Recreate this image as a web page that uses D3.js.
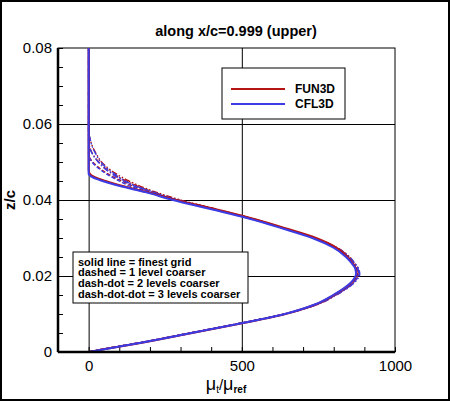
<!DOCTYPE html>
<html>
<head>
<meta charset="utf-8">
<title>along x/c=0.999 (upper)</title>
<style>
    body { margin: 0; background: #fff; }
    svg text { font-family: "Liberation Sans", Arial, sans-serif; }
</style>
</head>
<body>
<div id="chart"></div>
<script src="https://cdnjs.cloudflare.com/ajax/libs/d3/7.8.5/d3.min.js"></script>
<script>
// z/c stations shared by all profiles
const zc = [0, 0.001, 0.0025, 0.005, 0.0075, 0.01, 0.0125, 0.015, 0.0175, 0.019,
            0.0205, 0.022, 0.0235, 0.025, 0.0275, 0.03, 0.0325, 0.035, 0.0375, 0.04,
            0.042, 0.044, 0.045, 0.046, 0.047, 0.048, 0.05, 0.052, 0.054, 0.056,
            0.058, 0.06, 0.08];

// mu_t/mu_ref, FUN3D (fine -> 3 levels coarser)
const fun3dFine = [0, 68, 178, 338, 497, 642, 740, 800, 847, 866, 875, 872, 860, 845, 808, 742, 645, 540, 418, 285, 195, 95, 55, 20, 3, 0, 0, 0, 0, 0, 0, 0, 0];
const fun3dL1   = [0, 66, 176, 336, 495, 640, 742, 803, 850, 869, 878, 875, 862, 847, 806, 738, 640, 535, 415, 288, 205, 135, 108, 82, 60, 42, 13, 0, 0, 0, 0, 0, 0];
const fun3dL2   = [0, 64, 172, 332, 492, 640, 745, 806, 853, 872, 881, 878, 865, 850, 808, 738, 640, 536, 418, 295, 215, 150, 122, 98, 78, 60, 33, 14, 3, 0, 0, 0, 0];
const fun3dL3   = [0, 62, 168, 328, 490, 640, 746, 808, 855, 874, 883, 880, 867, 852, 810, 740, 642, 540, 422, 300, 222, 158, 132, 108, 88, 70, 42, 26, 13, 5, 0, 0, 0];

// mu_t/mu_ref, CFL3D (fine -> 3 levels coarser)
const cfl3dFine = [0, 70, 176, 336, 495, 640, 738, 798, 845, 864, 873, 870, 857, 840, 798, 730, 633, 528, 404, 275, 188, 86, 45, 12, 0, 0, 0, 0, 0, 0, 0, 0, 0];
const cfl3dL1   = [0, 68, 174, 334, 494, 640, 740, 802, 849, 868, 878, 874, 860, 845, 802, 734, 636, 530, 408, 280, 198, 125, 100, 76, 55, 38, 11, 0, 0, 0, 0, 0, 0];
const cfl3dL2   = [0, 66, 172, 332, 492, 640, 743, 805, 853, 872, 882, 878, 864, 848, 805, 736, 638, 533, 412, 286, 208, 140, 115, 92, 74, 57, 31, 13, 3, 0, 0, 0, 0];
const cfl3dL3   = [0, 64, 170, 330, 490, 640, 745, 808, 857, 876, 885, 881, 867, 852, 808, 738, 640, 536, 416, 292, 214, 145, 120, 100, 82, 65, 40, 24, 12, 5, 0, 0, 0];

const xTicks = [0, 500, 1000];
const yTicks = [0, 0.02, 0.04, 0.06, 0.08];
const legendNames = ["FUN3D", "CFL3D"];
const noteLines = ["solid line = finest grid", "dashed = 1 level coarser",
                   "dash-dot = 2 levels coarser", "dash-dot-dot = 3 levels coarser"];

const W = 450, H = 401;
const margin = {top: 48, right: 55, bottom: 49, left: 58};
const width = W - margin.left - margin.right;
const height = H - margin.top - margin.bottom;

const red = "#b41414", blue = "#3c3ce6";
const dashes = [null, "4,2", "6,2,1.5,2", "6,2,1.5,2,1.5,2"];

const svg = d3.select("#chart").append("svg")
    .attr("width", W).attr("height", H);

// outer frame
svg.append("rect")
    .attr("x", 1).attr("y", 1).attr("width", W - 2).attr("height", H - 2)
    .attr("fill", "none").attr("stroke", "#000").attr("stroke-width", 2);

const g = svg.append("g").attr("transform", `translate(${margin.left},${margin.top})`);

const x = d3.scaleLinear().domain([-100, 1000]).range([0, width]);
const y = d3.scaleLinear().domain([0, 0.08]).range([height, 0]);

// grid lines
g.append("g")
    .call(d3.axisBottom(x).tickValues([0, 500]).tickSize(height).tickFormat(""))
    .call(a => a.select(".domain").remove())
    .selectAll("line").attr("stroke", "#000").attr("stroke-width", 1);
g.append("g")
    .call(d3.axisLeft(y).tickValues([0.02, 0.04, 0.06]).tickSize(-width).tickFormat(""))
    .call(a => a.select(".domain").remove())
    .selectAll("line").attr("stroke", "#000").attr("stroke-width", 1);

// top and right border
g.append("rect").attr("width", width).attr("height", height)
    .attr("fill", "none").attr("stroke", "#000").attr("stroke-width", 1);

// minor ticks (inside)
g.append("g")
    .call(d3.axisLeft(y).tickValues(d3.range(0, 0.0801, 0.005)).tickSize(-5).tickFormat(""))
    .call(a => a.select(".domain").remove())
    .selectAll("line").attr("stroke", "#000");
g.append("g").attr("transform", `translate(0,${height})`)
    .call(d3.axisBottom(x).tickValues(d3.range(-100, 1001, 100)).tickSize(-5).tickFormat(""))
    .call(a => a.select(".domain").remove())
    .selectAll("line").attr("stroke", "#000");

// profiles
const line = d3.line()
    .x(d => x(d[0]))
    .y(d => y(d[1]))
    .curve(d3.curveMonotoneY);

const series = [
    {mu: fun3dL3, c: red, l: 3}, {mu: fun3dL2, c: red, l: 2}, {mu: fun3dL1, c: red, l: 1},
    {mu: cfl3dL3, c: blue, l: 3}, {mu: cfl3dL2, c: blue, l: 2}, {mu: cfl3dL1, c: blue, l: 1},
    {mu: fun3dFine, c: red, l: 0}, {mu: cfl3dFine, c: blue, l: 0}
];

g.selectAll("path.profile")
    .data(series)
    .enter().append("path")
    .attr("class", "profile")
    .attr("d", s => line(s.mu.map((m, i) => [m, zc[i]])))
    .attr("fill", "none")
    .attr("stroke", s => s.c)
    .attr("stroke-width", s => s.l === 0 ? 2 : 1.4)
    .attr("stroke-dasharray", s => dashes[s.l]);

// axes lines (thick left and bottom)
g.append("line").attr("x1", 0).attr("x2", 0).attr("y1", 0).attr("y2", height)
    .attr("stroke", "#000").attr("stroke-width", 2.5);
g.append("line").attr("x1", 0).attr("x2", width).attr("y1", height).attr("y2", height)
    .attr("stroke", "#000").attr("stroke-width", 2.5);

// tick labels
g.append("g")
    .call(d3.axisLeft(y).tickValues(yTicks).tickSize(0).tickPadding(6)
        .tickFormat(d => d === 0 ? "0" : d3.format(".2f")(d)))
    .call(a => a.select(".domain").remove())
    .selectAll("text").attr("font-size", "15px").attr("font-family", "Liberation Sans, Arial, sans-serif");
g.append("g").attr("transform", `translate(0,${height})`)
    .call(d3.axisBottom(x).tickValues(xTicks).tickSize(0).tickPadding(8).tickFormat(d3.format("d")))
    .call(a => a.select(".domain").remove())
    .selectAll("text").attr("font-size", "15px").attr("font-family", "Liberation Sans, Arial, sans-serif");

// title
svg.append("text")
    .attr("x", 236).attr("y", 36)
    .attr("text-anchor", "middle")
    .attr("font-weight", "bold").attr("font-size", "14.5px")
    .text("along x/c=0.999 (upper)");

// y label
svg.append("text")
    .attr("transform", "translate(15,200) rotate(-90)")
    .attr("text-anchor", "middle")
    .attr("font-weight", "bold").attr("font-size", "15px")
    .text("z/c");

// x label
const xl = svg.append("text")
    .attr("x", 226).attr("y", 390)
    .attr("text-anchor", "middle");
xl.append("tspan").attr("font-size", "18px").text("μ");
xl.append("tspan").attr("font-size", "10px").attr("dy", 3).text("t");
xl.append("tspan").attr("font-size", "15px").attr("dy", -3).text("/");
xl.append("tspan").attr("font-size", "18px").text("μ");
xl.append("tspan").attr("font-size", "10px").attr("font-weight", "bold").attr("dy", 3).text("ref");

// legend
const lg = svg.append("g");
lg.append("rect").attr("x", 222).attr("y", 68).attr("width", 123).attr("height", 51)
    .attr("fill", "#fff").attr("stroke", "#000").attr("stroke-width", 1);
const li = lg.selectAll("g.item").data(legendNames).enter().append("g")
    .attr("transform", (d, i) => `translate(231,${89 + i * 15})`);
li.append("line").attr("x1", 0).attr("x2", 54)
    .attr("stroke", (d, i) => i === 0 ? red : blue).attr("stroke-width", 2);
li.append("text").attr("x", 64).attr("dy", "0.36em")
    .attr("font-weight", "bold").attr("font-size", "12px").text(d => d);

// note box
const nb = svg.append("g");
nb.append("rect").attr("x", 73).attr("y", 252).attr("width", 175).attr("height", 51)
    .attr("fill", "#fff").attr("stroke", "#000").attr("stroke-width", 1);
nb.selectAll("text").data(noteLines).enter().append("text")
    .attr("x", 78).attr("y", (d, i) => 265.5 + i * 10.7)
    .attr("font-weight", "bold").attr("font-size", "11px")
    .text(d => d);
</script>
</body>
</html>
